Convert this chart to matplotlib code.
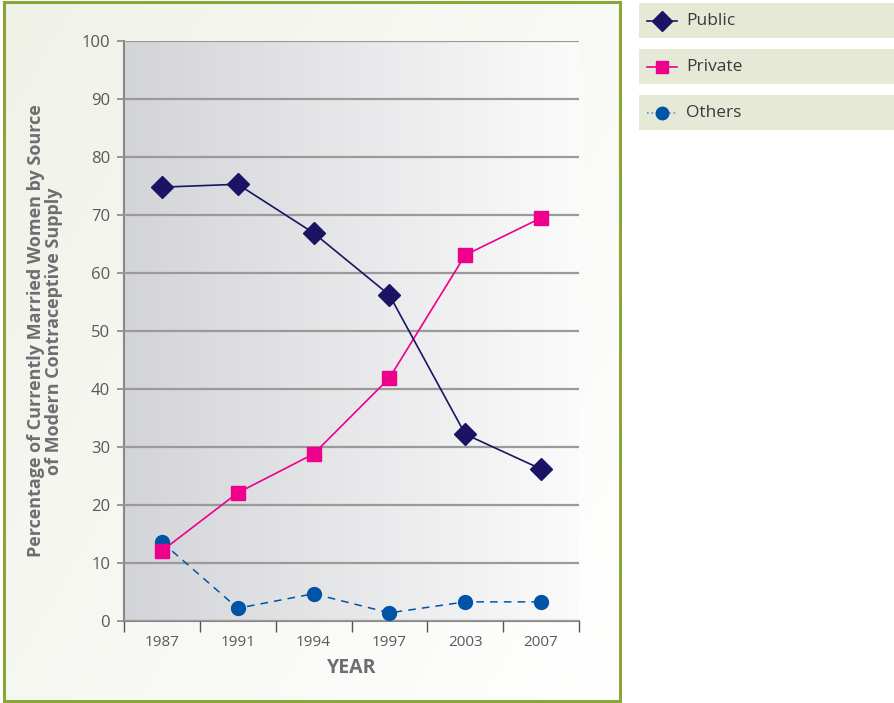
import numpy as np
import matplotlib.pyplot as plt
from matplotlib.colors import LinearSegmentedColormap
from matplotlib.patches import Rectangle
from matplotlib.lines import Line2D

plt.rcParams['font.family'] = ['Open Sans', 'DejaVu Sans']

years = ['1987', '1991', '1994', '1997', '2003', '2007']
public = [74.8, 75.3, 66.9, 56.2, 32.2, 26.2]
private = [12.1, 22.1, 28.8, 41.9, 63.1, 69.5]
others = [13.6, 2.2, 4.7, 1.4, 3.3, 3.3]

navy = '#1b1464'
pink = '#ec008c'
blue = '#0054a6'
grey_text = '#58595b'
label_grey = '#6d6e71'

fig = plt.figure(figsize=(8.94, 7.03), dpi=100)

# soft greenish wash inside the chart panel only
bg = fig.add_axes([4 / 894, 2 / 703, 616 / 894, 699 / 703], zorder=-10)
xx, yy = np.meshgrid(np.linspace(0, 1, 200), np.linspace(0, 1, 200))
bg.imshow(xx * 0.6 + yy * 0.4, extent=[0, 1, 0, 1], aspect='auto',
          cmap=LinearSegmentedColormap.from_list('bg', ['#f0f2e8', '#ffffff']),
          origin='upper')
bg.set_axis_off()

# green frame round the chart panel
fig.add_artist(Rectangle((4 / 894, 2 / 703), 616 / 894, 699 / 703,
                         transform=fig.transFigure, fill=False,
                         edgecolor='#8aa638', linewidth=2.2))

ax = fig.add_axes([124 / 894, 1 - 621 / 703, 455 / 894, 580 / 703])
x = np.arange(len(years))

grad = np.linspace(0, 1, 256).reshape(1, -1)
ax.imshow(grad, extent=[-0.5, 5.5, 0, 100], aspect='auto', zorder=0,
          cmap=LinearSegmentedColormap.from_list('plot', ['#d3d4d8', '#fbfbfb']))

ax.plot(x, others, color=blue, linestyle=(0, (5, 4)), linewidth=1.1,
        marker='o', markersize=10, zorder=3)
ax.plot(x, private, color=pink, linewidth=1.2, marker='s', markersize=10,
        zorder=4)
ax.plot(x, public, color=navy, linewidth=1.2, marker='D', markersize=11,
        zorder=5)

ax.set_xlim(-0.5, 5.5)
ax.set_ylim(0, 100)
ax.set_yticks(np.arange(0, 101, 10))
ax.yaxis.grid(True, color='#9a9a9a', linewidth=1.6, zorder=1)
ax.set_axisbelow(False)
ax.set_xticks(np.arange(-0.5, 6, 1))
ax.set_xticklabels([])
ax.set_xticks(x, minor=True)
ax.set_xticklabels(years, minor=True)
ax.tick_params(axis='x', which='major', length=8, color='#555555', width=1)
ax.tick_params(axis='x', which='minor', length=0, pad=10, labelsize=11,
               labelcolor=grey_text)
ax.tick_params(axis='y', length=5, color='#888888', width=1.2, labelsize=12,
               labelcolor=grey_text, pad=5)
for side in ['top', 'right']:
    ax.spines[side].set_visible(False)
ax.spines['left'].set_color('#888888')
ax.spines['left'].set_linewidth(1.5)
ax.spines['bottom'].set_color('#888888')
ax.spines['bottom'].set_linewidth(1.5)
ax.set_facecolor('none')

ax.set_xlabel('YEAR', fontsize=14, fontweight='bold', color=label_grey,
              labelpad=6)
ax.set_ylabel('Percentage of Currently Married Women by Source\n'
              'of Modern Contraceptive Supply', fontsize=13,
              fontweight='bold', color=label_grey, labelpad=13,
              linespacing=1.0)

# legend entries as separate shaded boxes
entries = [('Public', navy, '-', 'D', 10, 3),
           ('Private', pink, '-', 's', 9, 49),
           ('Others', blue, ':', 'o', 9, 95)]
for name, col, ls, mk, ms, top in entries:
    y0 = 1 - (top + 35) / 703
    fig.add_artist(Rectangle((639 / 894, y0), 255 / 894, 35 / 703,
                             transform=fig.transFigure, facecolor='#e5e9d6',
                             edgecolor='none'))
    yc = 1 - (top + 18) / 703
    lc = '#5b8fd0' if name == 'Others' else col
    fig.add_artist(Line2D([647 / 894, 677 / 894], [yc, yc],
                          transform=fig.transFigure, color=lc,
                          linestyle=ls, linewidth=1.2))
    fig.add_artist(Line2D([662 / 894], [yc], transform=fig.transFigure,
                          color=col, marker=mk, markersize=ms,
                          linestyle='none'))
    fig.text(686 / 894, yc, name, fontsize=12.5, color='#3a3a3a', va='center')

fig.savefig('out.png', dpi=100)
